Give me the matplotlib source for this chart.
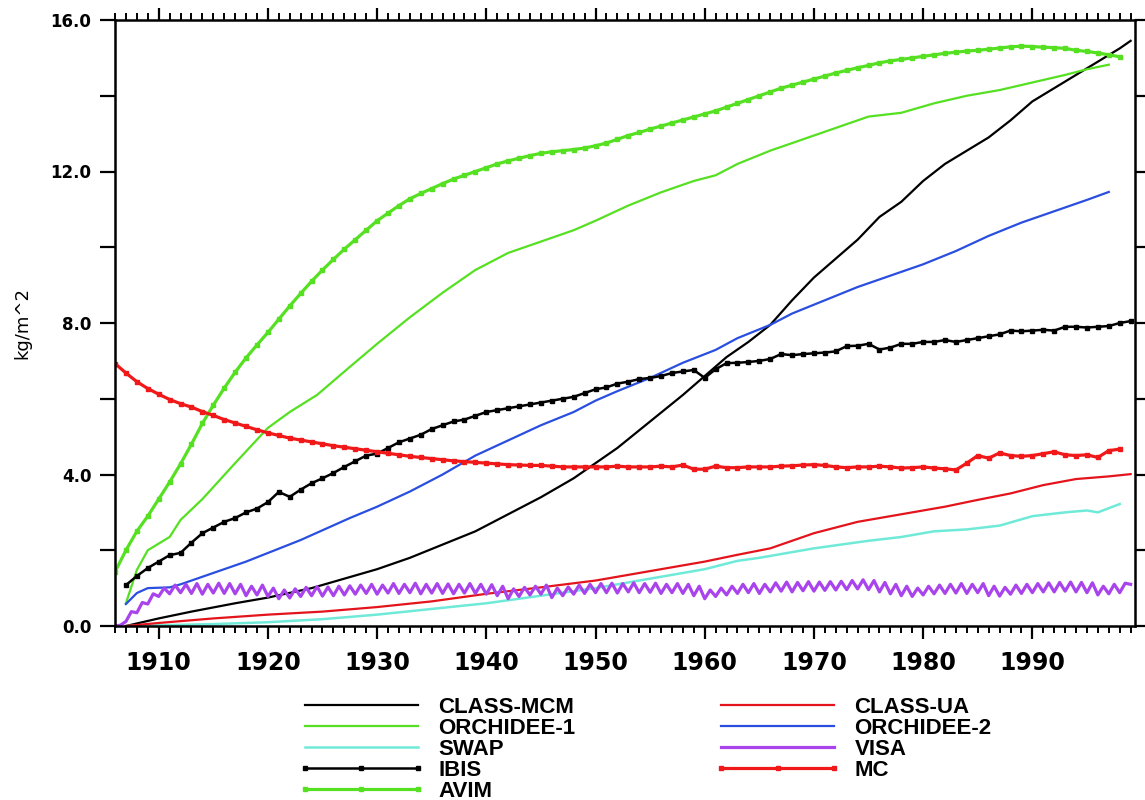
import numpy as np
import matplotlib
matplotlib.use("Agg")
import matplotlib.pyplot as plt
from matplotlib.ticker import MultipleLocator, FormatStrFormatter

# ---------------- data (kg/m^2) ----------------
mcm_years = [1907, 1910, 1913, 1917, 1920, 1924, 1927, 1930, 1933, 1936, 1939, 1942, 1945,
             1948, 1950, 1952, 1955, 1958, 1960, 1962, 1964, 1966, 1968, 1970, 1972, 1974,
             1976, 1978, 1980, 1982, 1984, 1986, 1988, 1990, 1992, 1994, 1996, 1998, 1999]
mcm_vals = [0.0, 0.2, 0.38, 0.6, 0.75, 1.0, 1.25, 1.5, 1.8, 2.15, 2.5, 2.95, 3.4,
            3.9, 4.3, 4.7, 5.4, 6.1, 6.6, 7.1, 7.5, 7.95, 8.6, 9.2, 9.7, 10.2,
            10.8, 11.2, 11.75, 12.2, 12.55, 12.9, 13.35, 13.85, 14.2, 14.55, 14.9, 15.25, 15.45]

orc1_years = [1907, 1908, 1909, 1911, 1912, 1914, 1917, 1920, 1922, 1924.5, 1927.5, 1930, 1933,
              1936, 1939, 1942, 1945, 1948, 1950, 1953, 1956, 1959, 1961, 1963, 1966, 1969,
              1972, 1975, 1978, 1981, 1984, 1987, 1990, 1993, 1995, 1997]
orc1_vals = [0.6, 1.48, 2.0, 2.35, 2.8, 3.35, 4.3, 5.23, 5.65, 6.1, 6.84, 7.45, 8.15,
             8.8, 9.4, 9.85, 10.15, 10.45, 10.7, 11.1, 11.45, 11.75, 11.9, 12.2, 12.55, 12.85,
             13.15, 13.45, 13.55, 13.8, 14.0, 14.15, 14.35, 14.55, 14.7, 14.82]

orc2_years = [1907, 1908, 1909, 1911, 1912, 1914, 1918, 1923, 1927.5, 1930, 1933, 1936, 1939,
              1942, 1945, 1948, 1950, 1952, 1955, 1958, 1961, 1963, 1966, 1968, 1971, 1974,
              1977, 1980, 1983, 1986, 1989, 1992, 1995, 1997]
orc2_vals = [0.58, 0.87, 1.0, 1.02, 1.1, 1.3, 1.7, 2.27, 2.85, 3.15, 3.55, 4.0, 4.5,
             4.9, 5.3, 5.65, 5.95, 6.2, 6.55, 6.95, 7.29, 7.6, 7.95, 8.25, 8.6, 8.95,
             9.25, 9.55, 9.9, 10.3, 10.65, 10.95, 11.25, 11.46]

ua_years = [1907, 1910, 1915, 1920, 1925, 1930, 1935, 1940, 1945, 1950, 1955, 1960, 1963,
            1966, 1970, 1974, 1978, 1982, 1985, 1988, 1991, 1994, 1997, 1999]
ua_vals = [0.0, 0.08, 0.2, 0.3, 0.38, 0.5, 0.65, 0.85, 1.02, 1.2, 1.45, 1.7, 1.88,
           2.05, 2.45, 2.75, 2.95, 3.15, 3.33, 3.5, 3.72, 3.88, 3.95, 4.01]

swap_years = [1907, 1915, 1920, 1925, 1930, 1935, 1940, 1945, 1950, 1955, 1960, 1963, 1965,
              1970, 1975, 1978, 1981, 1984, 1987, 1990, 1993, 1995, 1996, 1998]
swap_vals = [0.0, 0.05, 0.1, 0.18, 0.3, 0.45, 0.6, 0.8, 1.0, 1.25, 1.5, 1.72, 1.8,
             2.05, 2.25, 2.35, 2.5, 2.55, 2.65, 2.9, 3.0, 3.05, 3.0, 3.22]

# IBIS yearly 1907-1999
ibis_start = 1907
ibis_vals = [1.08, 1.32, 1.53, 1.7, 1.87, 1.93, 2.2, 2.45, 2.6, 2.75, 2.85, 3.0, 3.1, 3.27,
             3.54, 3.41, 3.6, 3.77, 3.9, 4.04, 4.2, 4.35, 4.5, 4.55, 4.7, 4.85, 4.95, 5.05,
             5.2, 5.3, 5.4, 5.45, 5.55, 5.65, 5.7, 5.75, 5.8, 5.85, 5.9, 5.95, 6.0, 6.05,
             6.15, 6.25, 6.3, 6.4, 6.45, 6.52, 6.55, 6.6, 6.68, 6.72, 6.76, 6.55, 6.78, 6.94,
             6.95, 6.97, 7.0, 7.05, 7.18, 7.15, 7.18, 7.2, 7.22, 7.25, 7.39, 7.4, 7.45, 7.3,
             7.35, 7.45, 7.45, 7.5, 7.5, 7.55, 7.5, 7.55, 7.6, 7.65, 7.7, 7.8, 7.78, 7.8,
             7.82, 7.8, 7.9, 7.9, 7.88, 7.9, 7.92, 8.0, 8.05]

# AVIM yearly 1906-1998
avim_start = 1906
avim_vals = [1.43, 2.0, 2.5, 2.9, 3.35, 3.8, 4.28, 4.8, 5.35, 5.83, 6.28, 6.7, 7.08, 7.42,
             7.75, 8.1, 8.45, 8.78, 9.1, 9.4, 9.68, 9.95, 10.2, 10.45, 10.7, 10.9, 11.1,
             11.28, 11.42, 11.55, 11.68, 11.8, 11.9, 12.0, 12.1, 12.2, 12.28, 12.35, 12.42,
             12.48, 12.52, 12.55, 12.58, 12.62, 12.68, 12.75, 12.85, 12.95, 13.03, 13.12,
             13.2, 13.28, 13.36, 13.44, 13.52, 13.6, 13.7, 13.8, 13.9, 14.0, 14.1, 14.2,
             14.28, 14.36, 14.44, 14.52, 14.6, 14.67, 14.74, 14.8, 14.87, 14.92, 14.96, 15.0,
             15.04, 15.08, 15.12, 15.15, 15.18, 15.2, 15.23, 15.26, 15.29, 15.31, 15.3, 15.28,
             15.27, 15.25, 15.2, 15.17, 15.13, 15.08, 15.03]

# MC yearly 1906-1998
mc_start = 1906
mc_vals = [6.93, 6.68, 6.45, 6.27, 6.12, 5.98, 5.87, 5.78, 5.66, 5.56, 5.45, 5.36, 5.27,
           5.18, 5.1, 5.03, 4.96, 4.91, 4.86, 4.81, 4.76, 4.72, 4.68, 4.64, 4.6, 4.56, 4.52,
           4.48, 4.45, 4.42, 4.39, 4.36, 4.34, 4.32, 4.3, 4.28, 4.26, 4.25, 4.24, 4.24, 4.22,
           4.2, 4.2, 4.2, 4.2, 4.2, 4.22, 4.2, 4.2, 4.2, 4.22, 4.2, 4.25, 4.14, 4.14, 4.22,
           4.18, 4.18, 4.2, 4.2, 4.2, 4.22, 4.23, 4.25, 4.26, 4.24, 4.2, 4.18, 4.2, 4.2,
           4.22, 4.2, 4.17, 4.18, 4.2, 4.17, 4.15, 4.12, 4.3, 4.5, 4.43, 4.57, 4.5, 4.48,
           4.5, 4.55, 4.6, 4.52, 4.5, 4.52, 4.45, 4.63, 4.67]

# VISA: spin-up 1906-1910.5 (half-year steps), then yearly trough (Jan) / peak (Jul) 1911-1998
visa_spin_x = [1906.0, 1906.5, 1907.0, 1907.5, 1908.0, 1908.5, 1909.0, 1909.5, 1910.0, 1910.5]
visa_spin_v = [0.0, 0.02, 0.12, 0.38, 0.35, 0.62, 0.58, 0.85, 0.78, 1.0]
visa_start = 1911
visa_trough = [0.85, 0.88, 0.86, 0.84, 0.87, 0.86, 0.85, 0.8, 0.82, 0.78,
               0.72, 0.74, 0.78, 0.8, 0.79, 0.8, 0.82, 0.84, 0.86, 0.84,
               0.87, 0.86, 0.88, 0.85, 0.87, 0.86, 0.85, 0.87, 0.86, 0.84,
               0.8, 0.72, 0.78, 0.82, 0.84, 0.75, 0.8, 0.84, 0.86, 0.88,
               0.88, 0.87, 0.9, 0.88, 0.89, 0.86, 0.88, 0.86, 0.8, 0.72,
               0.78, 0.82, 0.86, 0.88, 0.86, 0.9, 0.92, 0.9, 0.93, 0.92,
               0.94, 0.95, 0.96, 0.98, 0.96, 0.9, 0.85, 0.8, 0.78, 0.82,
               0.85, 0.86, 0.87, 0.86, 0.88, 0.8, 0.79, 0.84, 0.86, 0.88,
               0.9, 0.9, 0.92, 0.9, 0.88, 0.82, 0.85, 0.88]
visa_peak = [1.08, 1.1, 1.12, 1.1, 1.13, 1.12, 1.1, 1.05, 1.08, 1.0,
             0.95, 0.98, 1.02, 1.04, 1.03, 1.05, 1.06, 1.08, 1.1, 1.08,
             1.12, 1.1, 1.13, 1.1, 1.12, 1.11, 1.1, 1.12, 1.1, 1.09,
             1.05, 0.98, 1.02, 1.05, 1.08, 1.0, 1.03, 1.08, 1.1, 1.12,
             1.13, 1.12, 1.14, 1.12, 1.13, 1.1, 1.12, 1.1, 1.05, 0.95,
             1.0, 1.05, 1.1, 1.12, 1.1, 1.14, 1.16, 1.15, 1.17, 1.16,
             1.17, 1.18, 1.2, 1.22, 1.2, 1.15, 1.1, 1.05, 1.0, 1.05,
             1.08, 1.1, 1.12, 1.1, 1.12, 1.05, 1.02, 1.08, 1.1, 1.12,
             1.14, 1.15, 1.16, 1.15, 1.14, 1.05, 1.1, 1.13]
visa_end_x, visa_end_v = 1999.0, 1.1

labels = ["CLASS-MCM", "ORCHIDEE-1", "SWAP", "IBIS", "AVIM",
          "CLASS-UA", "ORCHIDEE-2", "VISA", "MC"]
x_ticks = [1910, 1920, 1930, 1940, 1950, 1960, 1970, 1980, 1990]
y_ticks = [0.0, 4.0, 8.0, 12.0, 16.0]

# ---------------- figure ----------------
plt.rcParams['font.family'] = ['DejaVu Sans']
fig = plt.figure(figsize=(11.45, 8.0), dpi=100)
ax = fig.add_axes([115 / 1145, 1 - 626 / 800, (1135 - 115) / 1145, (626 - 20) / 800])

GREEN = '#55e022'
h = {}
h['CLASS-MCM'], = ax.plot(mcm_years, mcm_vals, color='black', lw=1.6)
h['ORCHIDEE-1'], = ax.plot(orc1_years, orc1_vals, color=GREEN, lw=1.6)
h['SWAP'], = ax.plot(swap_years, swap_vals, color='#70ead8', lw=1.8)
h['CLASS-UA'], = ax.plot(ua_years, ua_vals, color='#e3141c', lw=1.6)
h['ORCHIDEE-2'], = ax.plot(orc2_years, orc2_vals, color='#2a4fe0', lw=1.6)

vx = list(visa_spin_x)
vv = list(visa_spin_v)
for i, (t, p) in enumerate(zip(visa_trough, visa_peak)):
    vx += [visa_start + i, visa_start + i + 0.5]
    vv += [t, p]
vx.append(visa_end_x)
vv.append(visa_end_v)
h['VISA'], = ax.plot(vx, vv, color='#a944ec', lw=2.3, solid_joinstyle='round')

ibis_x = np.arange(ibis_start, ibis_start + len(ibis_vals))
h['IBIS'], = ax.plot(ibis_x, ibis_vals, color='black', lw=1.8, marker='s', ms=3.0,
                     mfc='black', mec='black')
avim_x = np.arange(avim_start, avim_start + len(avim_vals))
h['AVIM'], = ax.plot(avim_x, avim_vals, color=GREEN, lw=2.3, marker='s', ms=3.4,
                     mfc=GREEN, mec=GREEN)
mc_x = np.arange(mc_start, mc_start + len(mc_vals))
h['MC'], = ax.plot(mc_x, mc_vals, color='#f01818', lw=2.3, marker='s', ms=3.4,
                   mfc='#f01818', mec='#f01818')

ax.set_xlim(1906, 1999.4)
ax.set_ylim(0, 16)
ax.set_xticks(x_ticks)
ax.xaxis.set_minor_locator(MultipleLocator(1))
ax.set_yticks(y_ticks)
ax.yaxis.set_minor_locator(MultipleLocator(2))
ax.yaxis.set_major_formatter(FormatStrFormatter('%.1f'))

for s in ax.spines.values():
    s.set_linewidth(1.8)

ax.tick_params(axis='x', which='major', direction='out', length=9, width=1.6,
               top=True, bottom=True, labelsize=17, pad=9)
ax.tick_params(axis='x', which='minor', direction='out', length=5, width=1.4,
               top=True, bottom=True)
ax.tick_params(axis='y', which='both', direction='out', length=11, width=1.6,
               left=True, right=True, labelsize=12, pad=6)
for lab in ax.get_xticklabels() + ax.get_yticklabels():
    lab.set_fontweight('bold')

ax.set_ylabel('kg/m^2', fontsize=13, labelpad=14)

FS = 16.0
fs_px = FS * 100 / 72
leg = fig.legend([h[k] for k in labels], labels, loc='upper left',
                 bbox_to_anchor=(298 / 1145, 1 - 697 / 800), ncol=2, frameon=False,
                 prop={'family': 'Liberation Sans', 'weight': 'bold', 'size': FS},
                 handlelength=(113 + 0.6 * fs_px) / fs_px,
                 handletextpad=0.62, columnspacing=6.26, labelspacing=0.0,
                 numpoints=3, borderpad=0, borderaxespad=0)

fig.savefig('out.png', dpi=100)
